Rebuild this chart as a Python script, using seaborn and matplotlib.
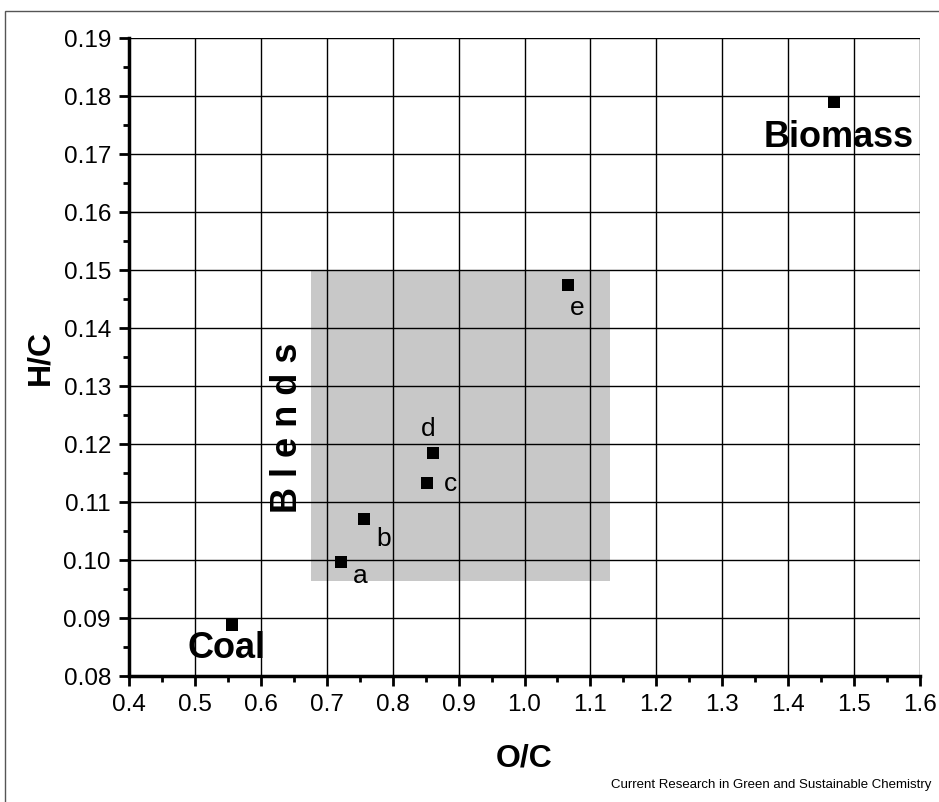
import matplotlib
matplotlib.use("Agg")
import matplotlib.pyplot as plt
import seaborn as sns
import pandas as pd
from matplotlib.patches import Rectangle
from matplotlib.ticker import MultipleLocator, FormatStrFormatter

# values
labels = ["Coal", "a", "b", "c", "d", "e", "Biomass"]
oc = [0.556, 0.722, 0.757, 0.852, 0.861, 1.066, 1.470]
hc = [0.0888, 0.0997, 0.1070, 0.1132, 0.1184, 0.1474, 0.1789]
# label offsets (points) relative to each marker
offsets = [(-3.6, -16.6), (13.7, -10), (13.7, -14.4), (16.6, -0.7),
           (-3.6, 17.3), (6.5, -16.6), (2.9, -25)]
blend_box = (0.676, 1.130, 0.0964, 0.150)

sns.set_theme(style="white")
plt.rcParams['font.family'] = ['Liberation Sans', 'DejaVu Sans']
plt.rcParams.update({"text.color": "black", "axes.labelcolor": "black",
                     "xtick.color": "black", "ytick.color": "black"})

df = pd.DataFrame({"O/C": oc, "H/C": hc, "label": labels})

fig = plt.figure(figsize=(9.39, 8.02), dpi=100)
ax = fig.add_axes([0.1374, 0.1571, 0.8424, 0.7955])

x0, x1, y0, y1 = blend_box
ax.add_patch(Rectangle((x0, y0), x1 - x0, y1 - y0, facecolor="#c8c8c8",
                       edgecolor="none", zorder=0.2))

sns.scatterplot(data=df, x="O/C", y="H/C", marker="s", color="black",
                s=80, edgecolor="black", linewidth=0, ax=ax, zorder=3)

for lab, x, y, off in zip(labels, oc, hc, offsets):
    big = lab in ("Coal", "Biomass")
    ax.annotate(lab, (x, y), xytext=off, textcoords="offset points",
                ha="center", va="center",
                fontsize=26 if big else 19,
                fontweight="bold" if big else "normal", zorder=4)

ax.text(0.667, 0.1228, "B l e n d s", rotation=90, ha="right", va="center",
        fontsize=26, fontweight="bold", zorder=4)

ax.set_xlim(0.4, 1.6)
ax.set_ylim(0.08, 0.19)
ax.xaxis.set_major_locator(MultipleLocator(0.1))
ax.xaxis.set_minor_locator(MultipleLocator(0.05))
ax.yaxis.set_major_locator(MultipleLocator(0.01))
ax.yaxis.set_minor_locator(MultipleLocator(0.005))
ax.xaxis.set_major_formatter(FormatStrFormatter("%.1f"))
ax.yaxis.set_major_formatter(FormatStrFormatter("%.2f"))

ax.set_axisbelow(True)
ax.grid(True, which="major", color="black", linewidth=1.0)
ax.tick_params(which="major", direction="out", length=7, width=2,
               labelsize=17.5, left=True, bottom=True, pad=6)
ax.tick_params(which="minor", direction="out", length=4, width=2,
               left=True, bottom=True)

for side in ("top", "right"):
    ax.spines[side].set_visible(False)
for side in ("left", "bottom"):
    ax.spines[side].set_linewidth(2.5)
    ax.spines[side].set_color("black")

ax.set_xlabel("O/C", fontsize=23, fontweight="bold", labelpad=20)
ax.set_ylabel("H/C", fontsize=23, fontweight="bold", labelpad=6)

fig.text(0.992, 0.021, "Current Research in Green and Sustainable Chemistry",
         ha="right", va="center", fontsize=9.5)

# thin frame around the figure
fig.add_artist(Rectangle((5 / 939, -0.1), 1.2, 1.1 - 11 / 802,
                         transform=fig.transFigure, fill=False,
                         edgecolor="#555555", linewidth=1.0))

fig.savefig("out.png", dpi=100)
